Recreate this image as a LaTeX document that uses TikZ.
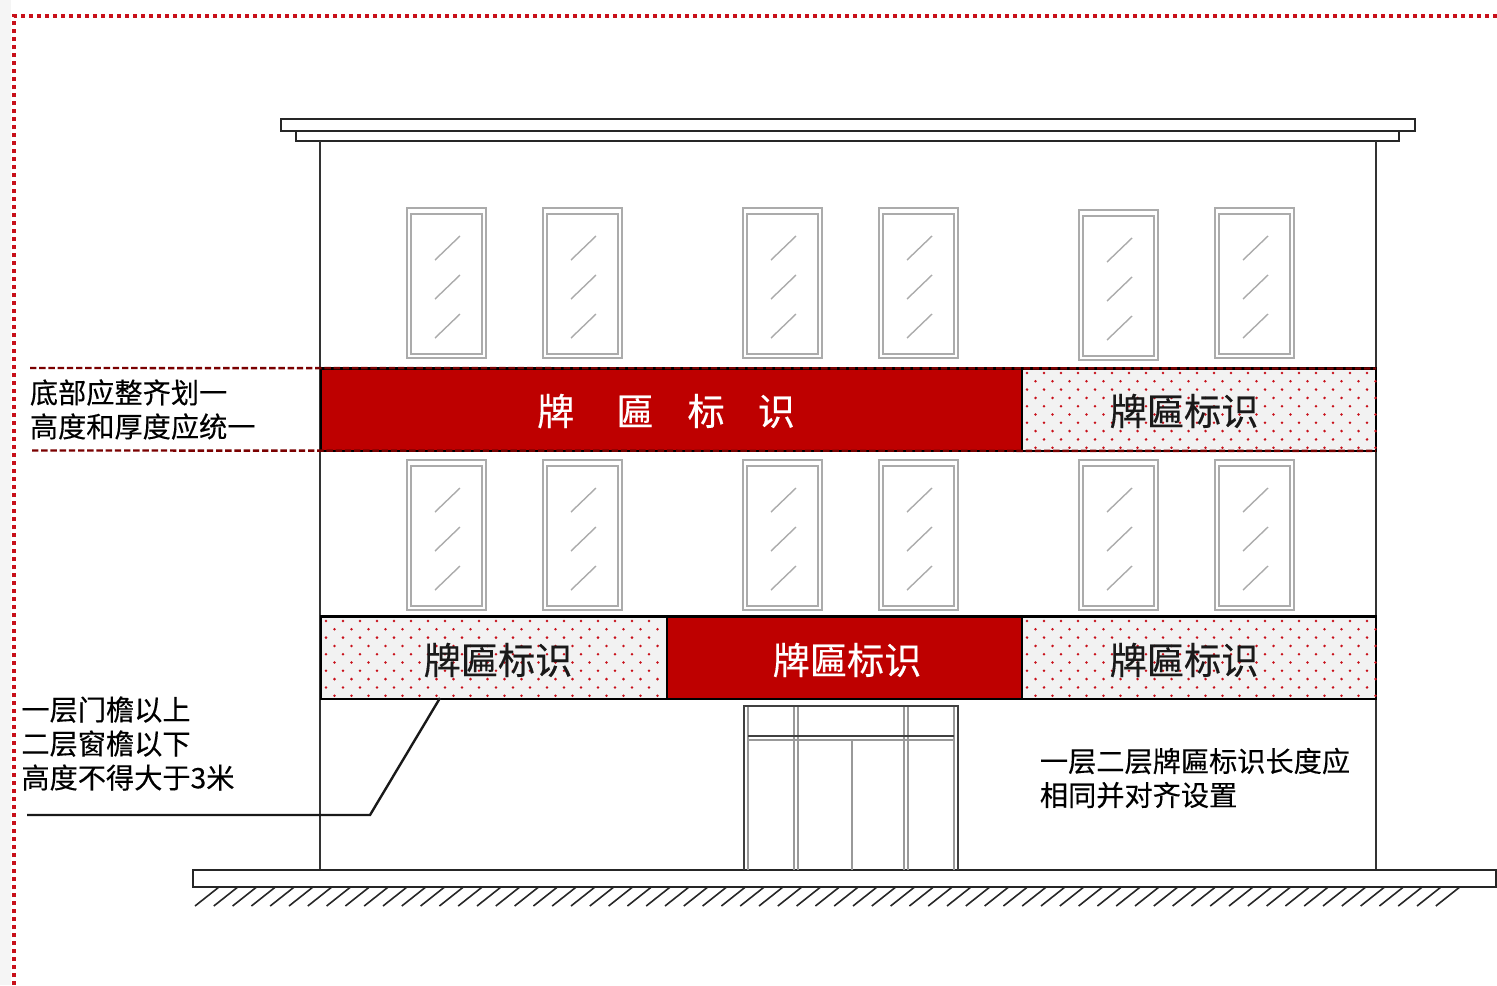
\documentclass[tikz,border=0pt]{standalone}
\usepackage{fontspec}
\setmainfont{Noto Sans CJK SC}[FakeBold=0.3,BoldFont={Noto Sans CJK SC},BoldFeatures={FakeBold=0.3},UprightFeatures={FakeBold=0.3}]
\definecolor{signred}{HTML}{BE0000}
\definecolor{framered}{HTML}{C8101A}
\definecolor{darkred}{HTML}{7A0000}
\definecolor{signgray}{HTML}{F2F2F2}
\definecolor{wallline}{HTML}{333333}
\definecolor{windowline}{HTML}{ABABAB}
\tikzset{
	wall/.style={draw=wallline, line width=1pt},
	roof/.style={draw=black!85, line width=1pt, fill=white},
	windowpane/.style={draw=windowline, line width=0.85pt},
	doorframe/.style={draw=black!75, line width=0.9pt},
	doorglass/.style={draw=black!40, line width=0.9pt},
	signbox/.style={draw=black, line width=1.3pt, inner sep=0pt, outer sep=0pt, anchor=north west, minimum height=41.2pt},
	signsolid/.style={signbox, fill=signred},
	signdotted/.style={signbox, fill=signgray},
	signtext/.style={font=\fontsize{18.6}{20}\selectfont, inner sep=0pt},
	notetext/.style={font=\fontsize{14.1}{17}\selectfont, align=left, anchor=west, inner sep=0pt},
	redline/.style={draw=darkred, line width=1.2pt, dash pattern=on 3.2pt off 1.4pt},
	leaderline/.style={draw=black!90, line width=1.2pt}
}
\newcommand{\signdots}[4]{
	\foreach \row in {0,...,#4} {
		\pgfmathsetmacro{\dotshift}{mod(\row,2)*8.5}
		\foreach \col in {0,...,#3} {
			\fill[framered] ({#1+\dotshift+17*\col},{#2+8.3*\row}) circle (0.7pt);
		}
	}
}
\begin{document}
\begin{tikzpicture}[x=0.5pt, y=-0.5pt]
	\useasboundingbox (0,0) rectangle (1497,985);
	\fill[black!4] (0,0) rectangle (11,985);
	\draw[framered, line width=2.4pt, dash pattern=on 2pt off 2pt] (14,985) -- (14,16) -- (1497,16);

	\draw[roof] (281,119) rectangle (1415,131);
	\draw[roof] (296,131) rectangle (1399,141);
	\draw[wall] (320,141) -- (320,870);
	\draw[wall] (1376,141) -- (1376,870);
	\draw[roof] (193,870) rectangle (1496,887);
	\foreach \hx in {0,...,66} {
		\draw[black!85, line width=0.8pt] ({195+18.8*\hx},906) -- ({219+18.8*\hx},887);
	}

	\foreach \wx/\wy in {407/208, 543/208, 743/208, 879/208, 1079/210, 1215/208,
		407/460, 543/460, 743/460, 879/460, 1079/460, 1215/460} {
		\draw[windowpane] (\wx,\wy) rectangle ({\wx+79},{\wy+150});
		\draw[windowpane] ({\wx+4},{\wy+6}) rectangle ({\wx+75},{\wy+146});
		\foreach \dy in {28,67,106} {
			\draw[windowpane, line width=0.7pt] ({\wx+28},{\wy+\dy+24}) -- ({\wx+53},{\wy+\dy});
		}
	}

	\foreach \dx in {748,794,798,904,908,954} {
		\draw[doorglass] (\dx,706) -- (\dx,870);
	}
	\draw[doorframe] (744,870) -- (744,706) -- (958,706) -- (958,870);
	\draw[doorframe] (748,736) -- (954,736);
	\draw[doorglass] (748,740) -- (954,740);
	\draw[doorglass] (852,740) -- (852,870);

	\node[signsolid, minimum width=350.5pt] (signtopleft) at (321,368.5) {};
	\node[signdotted, minimum width=177pt] (signtopright) at (1022,368.5) {};
	\node[signdotted, minimum width=173pt] (signlowleft) at (321,616.5) {};
	\node[signsolid, minimum width=177.5pt] (signlowmid) at (667,616.5) {};
	\node[signdotted, minimum width=177pt] (signlowright) at (1022,616.5) {};

	\signdots{1027}{373}{20}{9}
	\signdots{326}{621}{19}{9}
	\signdots{1027}{621}{20}{9}

	\node[signtext, text=white] (labeltopleft) at (666,411) {牌\hspace*{21pt}匾\hspace*{17pt}标\hspace*{16.5pt}识};
	\node[signtext, text=black!90] (labeltopright) at (1184,411) {牌匾标识};
	\node[signtext, text=black!90] (labellowleft) at (498,660) {牌匾标识};
	\node[signtext, text=white] (labellowmid) at (847,660) {牌匾标识};
	\node[signtext, text=black!90] (labellowright) at (1184,660) {牌匾标识};

	\coordinate (dashupper) at (30,368);
	\coordinate (dashlower) at (32,450.5);
	\draw[redline] (dashupper) -- (signtopleft.north west -| signtopright.north east);
	\draw[redline] (dashlower) -- (signtopleft.south west -| signtopright.south east);

	\node[notetext] (noteband) at (29.5,409.5) {底部应整齐划一\\高度和厚度应统一};
	\node[notetext] (noteheight) at (21,743.5) {一层门檐以上\\二层窗檐以下\\高度不得大于3米};
	\node[notetext] (notelength) at (1039.5,778) {一层二层牌匾标识长度应\\相同并对齐设置};

	\coordinate (leaderstart) at (27,815);
	\coordinate (leaderbend) at (370,815);
	\coordinate (leaderend) at (440,698);
	\draw[leaderline] (leaderstart) -- (leaderbend) -- (leaderend);
\end{tikzpicture}
\end{document}
